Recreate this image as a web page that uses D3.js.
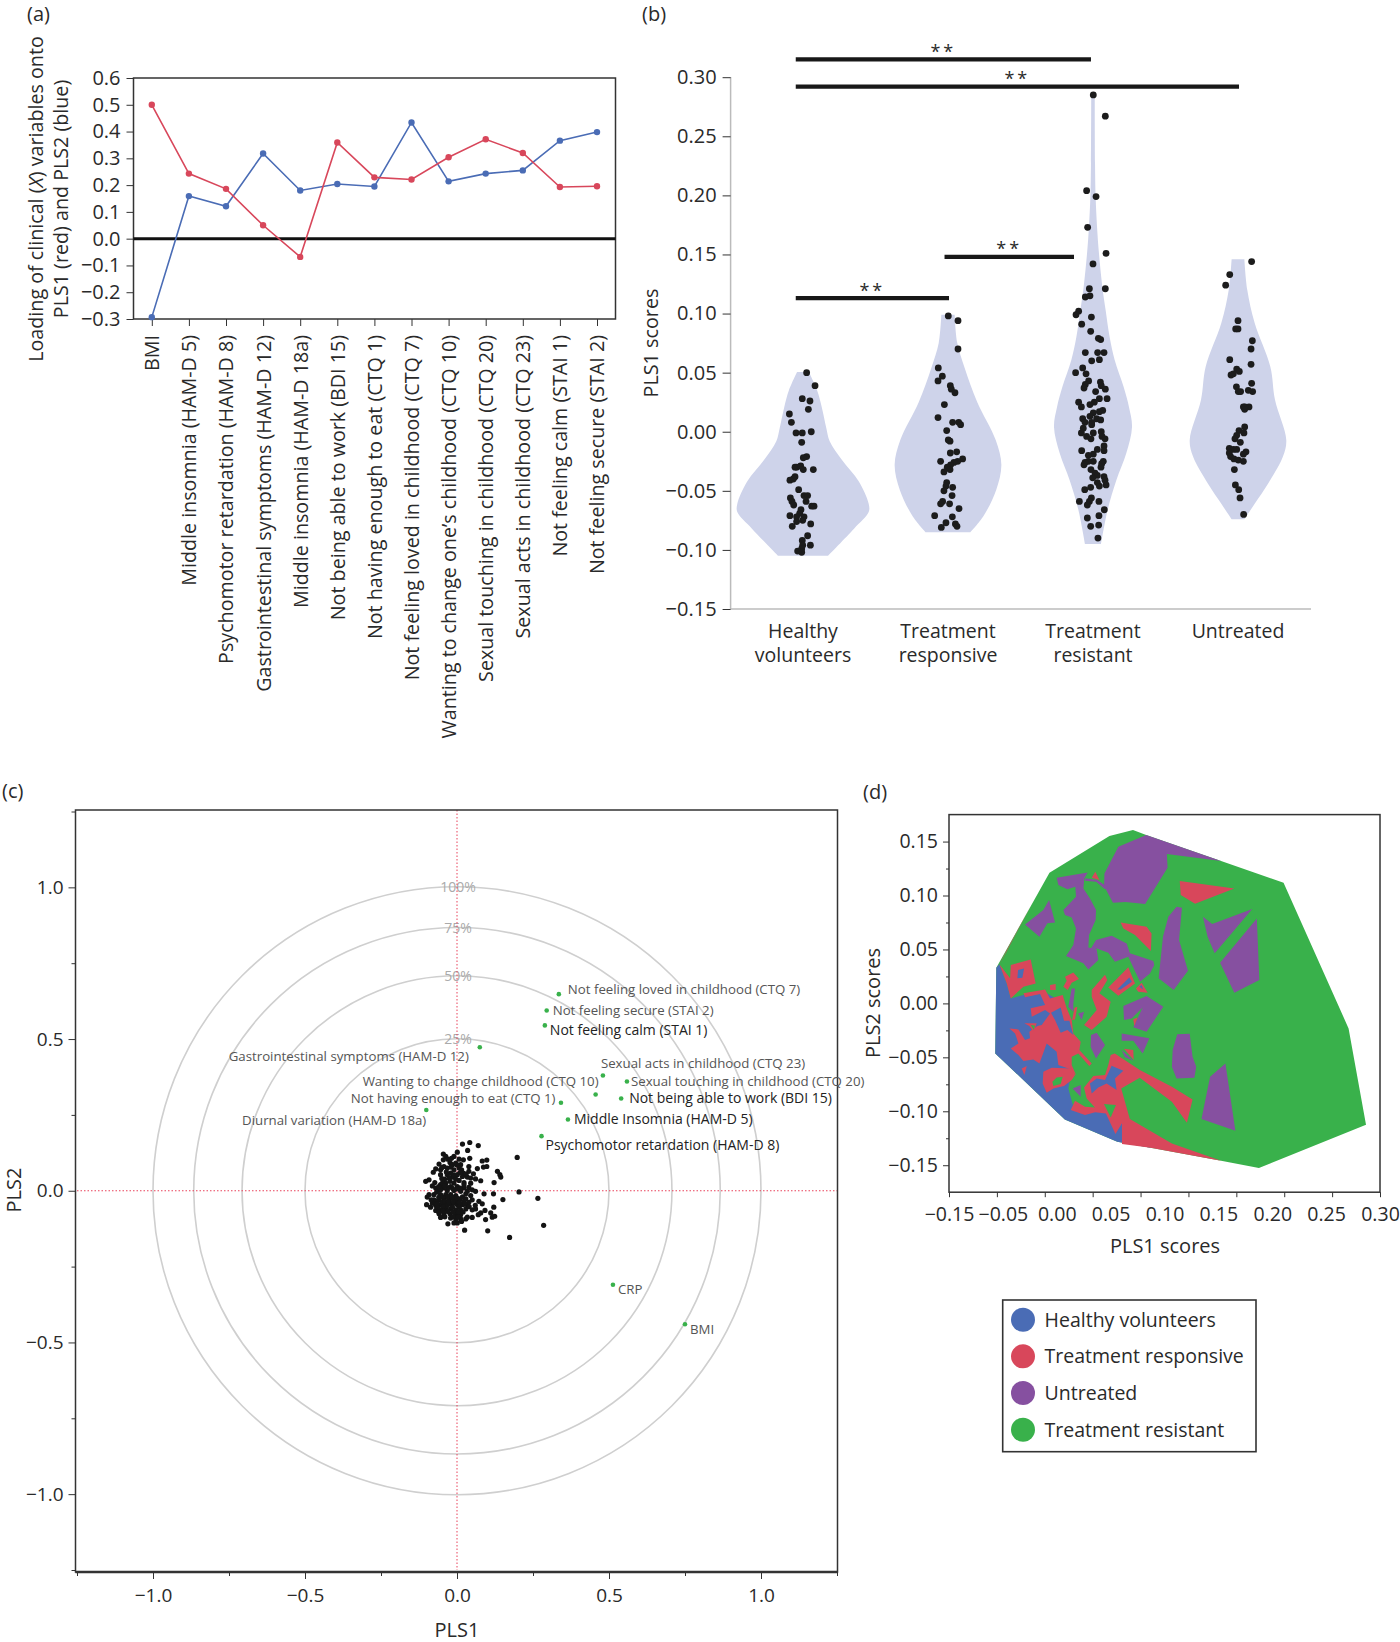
<!DOCTYPE html>
<html>
<head>
<meta charset="utf-8">
<script src="https://cdnjs.cloudflare.com/ajax/libs/d3/7.8.5/d3.min.js"></script>
<style>
  body { margin: 0; background: #fff; }
  text { font-family: "Open Sans", sans-serif; fill: #2a2a2a; }
</style>
</head>
<body>
<script>
// (a) loadings
var variableNames = ['BMI', 'Middle insomnia (HAM-D 5)', 'Psychomotor retardation (HAM-D 8)', 'Gastrointestinal symptoms (HAM-D 12)',
  'Middle insomnia (HAM-D 18a)', 'Not being able to work (BDI 15)', 'Not having enough to eat (CTQ 1)', 'Not feeling loved in childhood (CTQ 7)',
  'Wanting to change one\u2019s childhood (CTQ 10)', 'Sexual touching in childhood (CTQ 20)', 'Sexual acts in childhood (CTQ 23)',
  'Not feeling calm (STAI 1)', 'Not feeling secure (STAI 2)'];
var pls1Loadings = [0.5, 0.243, 0.186, 0.05, -0.068, 0.359, 0.229, 0.221, 0.304, 0.371, 0.32, 0.193, 0.196];
var pls2Loadings = [-0.293, 0.159, 0.121, 0.318, 0.18, 0.204, 0.195, 0.434, 0.214, 0.243, 0.255, 0.366, 0.398];
var loadingTicks = [-0.3, -0.2, -0.1, 0, 0.1, 0.2, 0.3, 0.4, 0.5, 0.6];

// (b) violins: [offset from the group centre, PLS1 score]
var groupNames = ['Healthy volunteers', 'Treatment responsive', 'Treatment resistant', 'Untreated'];
var scoreTicks = [-0.15, -0.1, -0.05, 0, 0.05, 0.1, 0.15, 0.2, 0.25, 0.3];
var healthyScores = [[.025,.050],[.083,.039],[-.005,.028],[.048,.026],[.037,.019],[-.094,.015],[-.080,.008],[-.048,-.001],[-.005,-.001],[.057,.000],
  [-.009,-.009],[.025,-.021],[.002,-.022],[-.044,-.030],[-.055,-.030],[-.016,-.029],[.002,-.032],[.071,-.032],[-.055,-.038],[-.067,-.040],
  [-.090,-.041],[-.030,-.049],[.007,-.054],[.032,-.054],[.021,-.059],[-.087,-.056],[-.076,-.059],[-.064,-.062],[.060,-.063],[.076,-.063],
  [-.014,-.066],[-.090,-.071],[-.023,-.069],[-.044,-.072],[.007,-.072],[-.002,-.075],[-.044,-.076],[.053,-.078],[-.074,-.080],[.032,-.088],
  [-.005,-.092],[-.002,-.096],[.051,-.096],[-.009,-.099],[-.037,-.101],[-.009,-.102]];
var responsiveScores = [[.002,.098],[.069,.094],[.069,.070],[-.067,.054],[-.039,.047],[-.069,.043],[.016,.039],[.023,.036],[.048,.033],[-.025,.023],
  [-.069,.012],[.032,.008],[.074,.008],[.087,.006],[-.009,.001],[.002,-.007],[.014,-.008],[.016,-.018],[.060,-.017],[-.051,-.025],
  [.101,-.023],[.067,-.025],[.041,-.026],[.018,-.028],[-.005,-.030],[.014,-.032],[-.028,-.034],[-.009,-.043],[-.014,-.046],[.032,-.047],
  [-.028,-.050],[.028,-.054],[-.037,-.059],[-.051,-.061],[.011,-.061],[.076,-.065],[-.092,-.071],[.030,-.072],[-.014,-.077],[-.046,-.081],
  [.051,-.078],[.062,-.080]];
var resistantScores = [[.002,.285],[.085,.267],[-.044,.204],[.021,.199],[-.037,.173],[.090,.151],[.000,.142],[-.025,.121],[.085,.121],[-.053,.114],
  [-.021,.115],[-.099,.102],[-.117,.099],[-.011,.097],[-.078,.091],[-.016,.085],[.037,.079],[.053,.078],[-.053,.067],[.032,.067],
  [.076,.067],[-.009,.060],[.044,.061],[-.071,.054],[-.120,.050],[-.048,.049],[-.030,.043],[-.053,.040],[-.062,.037],[.051,.042],
  [.057,.039],[.085,.036],[.018,.034],[.097,.028],[.044,.028],[.009,.025],[-.021,.023],[-.099,.025],[-.080,.021],[.067,.018],
  [.044,.017],[.002,.016],[-.021,.013],[-.071,.011],[.025,.011],[.053,.010],[-.009,.008],[-.055,.008],[-.009,.006],[-.067,.003],
  [.057,.000],[.002,-.001],[-.080,-.001],[-.044,-.004],[-.014,-.006],[.062,-.004],[.083,-.006],[.076,-.012],[.076,-.016],[.030,-.015],
  [-.078,-.016],[.002,-.019],[-.032,-.020],[.071,-.025],[.002,-.025],[-.032,-.025],[-.055,-.026],[-.062,-.028],[.060,-.027],[.055,-.030],
  [-.014,-.032],[.014,-.035],[.030,-.037],[-.002,-.039],[.076,-.038],[.083,-.041],[.030,-.043],[.090,-.045],[.044,-.046],[-.016,-.047],
  [-.057,-.049],[-.011,-.056],[-.025,-.059],[-.039,-.062],[-.094,-.059],[.041,-.059],[.078,-.066],[.041,-.071],[-.039,-.073],[-.016,-.080],
  [.039,-.079],[.034,-.090]];
var untreatedScores = [[.094,.144],[-.057,.133],[-.085,.124],[0,.094],[-.016,.087],[0,.087],[.099,.077],[.090,.070],[-.057,.061],[.090,.057],
  [-.009,.053],[.009,.051],[-.032,.049],[-.048,.048],[.094,.041],[-.011,.038],[.002,.034],[.018,.034],[.071,.035],[.101,.034],
  [.076,.021],[.048,.021],[.037,.021],[.046,.019],[.046,.004],[.007,.001],[.041,-.001],[-.009,-.003],[-.021,-.006],[.016,-.009],
  [-.060,-.014],[-.032,-.015],[-.009,-.015],[.055,-.017],[-.060,-.018],[.037,-.019],[-.051,-.021],[-.028,-.023],[.002,-.024],[.037,-.025],
  [-.025,-.032],[-.018,-.045],[.005,-.049],[.014,-.056],[.039,-.070]];
// violin outlines: [PLS1 score, half width in group units]
var healthyViolin = [[.0505,.041],[.035,.097],[.021,.129],[.003,.161],[-.008,.184],[-.024,.269],[-.042,.384],[-.061,.453],[-.068,.453],[-.082,.352],[-.105,.172]];
var responsiveViolin = [[.099,.046],[.075,.064],[.054,.115],[.025,.202],[-.007,.329],[-.028,.368],[-.049,.333],[-.071,.246],[-.085,.154]];
var resistantViolin = [[.285,.012],[.227,.014],[.199,.018],[.173,.028],[.151,.041],[.123,.064],[.103,.087],[.080,.115],[.061,.149],[.038,.211],[.021,.248],[.004,.269],[-.018,.230],[-.041,.161],[-.066,.101],[-.095,.055]];
var untreatedViolin = [[.146,.044],[.120,.064],[.092,.115],[.055,.223],[.027,.255],[-.007,.333],[-.021,.310],[-.044,.207],[-.061,.115],[-.074,.044]];
// significance bars: [from group, to group, level]
var sigBars = [[-0.05, 1.986, 0.315], [-0.05, 3.007, 0.292], [0.976, 1.869, 0.148], [-0.05, 1.007, 0.113]];

// (c) biplot
var ringPercents = [25, 50, 75, 100];
var biplotTicks = [-1, -0.5, 0, 0.5, 1];
var biplotMinorTicks = [-1.25, -0.75, -0.25, 0.25, 0.75, 1.25];
var biplotNames = ['Not feeling loved in childhood (CTQ 7)', 'Not feeling secure (STAI 2)', 'Not feeling calm (STAI 1)', 'Gastrointestinal symptoms (HAM-D 12)',
  'Sexual acts in childhood (CTQ 23)', 'Sexual touching in childhood (CTQ 20)', 'Wanting to change childhood (CTQ 10)', 'Not being able to work (BDI 15)',
  'Not having enough to eat (CTQ 1)', 'Middle Insomnia (HAM-D 5)', 'Diurnal variation (HAM-D 18a)', 'Psychomotor retardation (HAM-D 8)', 'CRP', 'BMI'];
var biplotPls1 = [.335, .295, .289, .075, .48, .559, .456, .54, .342, .365, -.101, .278, .513, .75];
var biplotPls2 = [.648, .594, .545, .473, .38, .36, .317, .304, .29, .235, .266, .18, -.31, -.44];
var biplotScores = [[.018,.154],[.042,.159],[.070,.149],[.035,.133],[.198,.110],[-.045,.121],[.001,.127],[-.010,.113],[-.018,.107],[-.037,.113],
  [.042,.107],[.021,.102],[.083,.098],[.098,.101],[.098,.080],[.087,.078],[.067,.073],[-.045,.102],[-.023,.093],[-.059,.088],
  [-.004,.091],[.012,.086],[.039,.080],[.039,.064],[.015,.069],[-.010,.069],[-.043,.080],[-.070,.072],[-.078,.061],[-.054,.069],
  [-.032,.075],[.007,.075],[.133,.064],[.141,.053],[.144,.045],[.054,.056],[.122,.027],[.061,.039],[.078,.033],[.034,.045],
  [.018,.047],[.001,.053],[-.015,.045],[-.054,.053],[-.041,.038],[-.023,.031],[-.092,.036],[-.103,.031],[-.073,.027],[-.081,.016],
  [-.070,.009],[-.054,.020],[-.037,.025],[-.010,.025],[.023,.027],[.007,.034],[.045,.025],[.061,-.002],[.039,.011],[.023,.009],
  [.001,.014],[-.021,.014],[-.045,.009],[-.062,.001],[-.032,.001],[-.010,.001],[.012,-.002],[.089,-.010],[.120,-.010],[.204,-.004],
  [.151,-.029],[.266,-.025],[-.092,-.013],[-.098,-.021],[-.076,-.013],[-.054,-.013],[-.037,-.013],[-.021,-.013],[-.004,-.016],[.029,-.010],
  [.045,-.016],[-.076,-.030],[-.059,-.030],[-.043,-.027],[-.026,-.027],[-.010,-.030],[.010,-.027],[.029,-.027],[.050,-.030],[.072,-.035],
  [.083,-.043],[-.100,-.046],[-.087,-.054],[-.070,-.049],[-.054,-.046],[-.037,-.043],[-.021,-.043],[.001,-.046],[.018,-.046],[.034,-.046],
  [.061,-.060],[.121,-.054],[.092,-.065],[.078,-.073],[.070,-.079],[.050,-.063],[-.070,-.065],[-.054,-.063],[-.037,-.060],[-.021,-.060],
  [-.004,-.063],[.012,-.063],[.029,-.060],[-.059,-.076],[-.043,-.077],[-.023,-.076],[-.004,-.077],[.012,-.079],[.111,-.073],[.116,-.087],
  [.124,-.084],[.094,-.095],[.050,-.088],[.034,-.087],[.029,-.093],[-.054,-.088],[-.021,-.090],[-.004,-.093],[.012,-.093],[-.010,-.106],
  [-.030,-.109],[.001,-.106],[.015,-.101],[.025,-.130],[.101,-.132],[.173,-.154],[.285,-.114],[-.068,-.035],[-.048,-.038],[-.032,-.049],
  [-.015,-.054],[.023,-.035],[.039,-.038],[-.081,-.041],[-.062,-.057],[-.045,-.052],[.007,-.054],[-.010,-.041],[.001,-.035],[-.026,.042],
  [-.048,.025],[.050,.003],[.034,-.002],[-.054,.003],[-.067,-.005],[.010,.009],[.023,.020],[-.021,.058],[-.032,.053],[-.004,.038],
  [-.015,.086],[-.030,.104],[.007,.104],[.021,.058],[.045,.042],[-.060,-.022],[-.045,-.022],[-.030,-.020],[-.015,-.022],[.000,-.024],
  [.018,-.020],[-.065,-.042],[-.040,-.034],[-.028,-.036],[-.012,-.036],[.008,-.038],[.025,-.044],[-.060,-.070],[-.045,-.068],[-.030,-.068],
  [-.012,-.070],[.005,-.072],[.020,-.070],[-.040,-.086],[-.012,-.085],[.004,-.086],[-.030,.010],[-.015,.008],[.000,.006],[-.040,.016],
  [-.060,.014],[-.025,.042],[-.050,.040],[-.010,.052],[.010,.060],[-.035,.062],[-.050,.076],[-.020,.078],[.000,.085],[.030,.055],
  [.040,-.052],[.060,-.048],[-.085,-.030]];

// (d) decision regions, outlines in PLS1/PLS2 score units
var regionTicksX = [-0.15, -0.1, -0.05, 0, 0.05, 0.1, 0.15, 0.2, 0.25, 0.3];
var regionLabelsX = ['\u22120.15', '\u22120.05', '0.00', '0.05', '0.10', '0.15', '0.20', '0.25', '0.30'];
var regionTicksY = [-0.15, -0.1, -0.05, 0, 0.05, 0.1, 0.15];
var regionMinorY = [-0.125, -0.075, -0.025, 0.025, 0.075, 0.125];
var legendNames = ['Healthy volunteers', 'Treatment responsive', 'Untreated', 'Treatment resistant'];
var resistantHull = [[-.1006,.0331],[-.0451,.1211],[.0175,.1551],[.0421,.1607],[.0559,.1560],[.1341,.1319],[.1993,.1119],[.2672,-.0232],[.2854,-.1125],[.1736,-.1526],[.1341,-.1458],[.0604,-.1338],[.0257,-.1282],[-.0291,-.1075],[-.1017,-.0464]];
var healthyBase = [[-.1006,.0331],[-.1017,-.0464],[-.0291,-.1075],[.0257,-.1282],[.0604,-.1338],[.05,-.125],[.0306,-.11],[.0138,-.095],[.0026,-.0985],[-.008,-.1],[-.0202,-.0958],[-.0254,-.0788],[-.0219,-.0633],[-.0271,-.0510],[-.0236,-.0371],[-.0289,-.0124],[-.0358,.0031],[-.0480,.0093],[-.0654,.0077],[-.0723,.0077],[-.0855,.0046],[-.0897,.0185],[-.0974,.0362]];
var responsiveRegions = [
  [[-.0974,.0355],[-.0636,.0921],[-.0897,.0494]],
  [[-.0723,.0093],[-.0497,.0130],[-.0445,.0046],[-.0313,.0077],[-.0271,-.0046],[-.0219,-.0155],[-.0202,-.0278],[-.0125,-.0355],[-.0139,-.0433],[-.0010,-.0556],[-.0035,-.0581],[-.0150,-.0464],[-.0219,-.0494],[-.0219,-.0572],[-.0174,-.0664],[-.0254,-.0603],[-.0358,-.0572],[-.0376,-.0448],[-.0480,-.0371],[-.0556,-.0556],[-.0619,-.0519],[-.0723,-.0535],[-.0775,-.0479],[-.0855,-.0417],[-.0775,-.0371],[-.0810,-.0278],[-.0869,-.0232],[-.0775,-.0241],[-.0706,-.0340],[-.0654,-.0324],[-.0661,-.0263],[-.0577,-.0210],[-.0532,-.0201],[-.0445,-.0093],[-.0497,-.0062],[-.0636,-.0124],[-.0647,-.0046],[-.0497,-.0015],[-.0549,.0087],[-.0706,.0056]],
  [[-.0713,-.0185],[-.0584,-.0185],[-.0619,-.0263],[-.0661,-.0210]],
  [[-.0741,-.0603],[-.0688,-.0581],[-.0713,-.0664]],
  [[-.0515,-.0633],[-.0428,-.0596],[-.0219,-.0603],[-.0184,-.0664],[-.0219,-.0711],[-.0299,-.0766],[-.0410,-.0788],[-.0480,-.0828],[-.0522,-.0742]],
  [[.0188,-.0479],[.0231,-.0464],[.0492,-.0618],[.0827,-.0773],[.1043,-.0890],[.0984,-.1106],[.0827,-.0912],[.0492,-.0689],[.0298,-.0788],[.0388,-.1072],[.0827,-.1298],[.1341,-.1458],[.0604,-.1338],[.0306,-.1304],[.0306,-.1112],[.0238,-.1211],[.0138,-.1020],[.0026,-.1010],[-.0080,-.1035],[-.0229,-.0989],[-.0184,-.0902],[-.0080,-.0958],[.0024,-.0964],[-.0063,-.0881],[-.0090,-.0779],[.0007,-.0674],[.0129,-.0664],[.0163,-.0572]],
  [[-.0974,.0362],[-.0862,.0232],[-.0855,.0355],[-.0647,.0408],[-.0595,.0185],[-.0723,.0155],[-.0855,.0046],[-.0897,.0185]],
  [[-.0289,.0247],[-.0202,.0287],[-.0143,.0226],[-.0219,.0192],[-.0261,.0124],[-.0306,.0155],[-.0271,.0210]],
  [[-.0445,.0170],[-.0386,.0179],[-.0386,.0124],[-.0445,.0124]],
  [[-.0010,.0124],[.0129,.0266],[.0153,.0216],[.0070,.0093],[.0188,.0015],[.0146,-.0124],[-.0010,-.0247],[-.0090,-.0201],[.0042,-.0062],[-.0010,.0062]],
  [[.0163,.0148],[.0372,.0334],[.0442,.0185],[.0268,.0071]],
  [[.0452,.0139],[.0511,.0192],[.0574,.0099],[.0476,.0108]],
  [[.0909,.1134],[.1479,.1066],[.1069,.0924],[.0920,.1004]],
  [[.0292,.0751],[.0563,.0711],[.0615,.0649],[.0608,.0485],[.0546,.0541],[.0442,.0633],[.0320,.0695]],
  [[-.0010,.1165],[.0028,.1221],[.0070,.1143]],
  [[-.0190,-.0040],[-.0160,-.0031],[-.0185,-.0150],[-.0215,-.0155]]
];
var healthyIslands = [
  [[-.0435,-.0087],[-.0334,-.0037],[-.0299,-.0161],[-.0243,-.0161],[-.0202,-.0294],[-.0264,-.0247],[-.0334,-.0272],[-.0393,-.0155]],
  [[-.0028,-.0742],[.0042,-.0695],[.0129,-.0711],[.0198,-.0578],[.0320,-.0624],[.0233,-.0695],[.0250,-.0803],[.0146,-.0742],[.0059,-.0779],[-.0010,-.0834]],
  [[-.0779,.0309],[-.0716,.0324],[-.0734,.0238],[-.0786,.0232]],
  [[.0257,.0130],[.0382,.0241],[.0410,.0201],[.0292,.0130]],
  [[.0487,.0155],[.0511,.0170],[.0528,.0130]]
];
var resistantIslands = [
  [[-.0647,-.0201],[-.0602,-.0204],[-.0615,-.0247]],
  [[-.0421,-.0726],[-.0376,-.0686],[-.0313,-.0680],[-.0334,-.0748],[-.0410,-.0766]],
  [[.0118,-.0933],[.0243,-.0942],[.0188,-.1057]]
];
var untreatedRegions = [
  [[.0559,.1560],[.1341,.1319],[.0775,.1384],[.0782,.1258],[.0548,.0921],[.0343,.0939],[.0212,.0933],[.0119,.1088],[.0123,.1205],[.0268,.1452]],
  [[.0876,.0896],[.0932,.0887],[.0902,.0587],[.0995,.0303],[.0846,.0124],[.0689,.0232],[.0734,.0618],[.0790,.0803]],
  [[.1151,.0803],[.1248,.0735],[.1666,.0874],[.1274,.0464],[.1200,.0618]],
  [[.1714,.0788],[.1740,.0216],[.1479,.0099],[.1330,.0377]],
  [[.0883,-.0287],[.1013,-.0281],[.1043,-.0494],[.1081,-.0587],[.1062,-.0689],[.0876,-.0695],[.0827,-.0587],[.0835,-.0433]],
  [[.1386,-.0556],[.1490,-.1180],[.1136,-.1072],[.1226,-.0680]],
  [[-.0376,.1165],[-.0052,.1214],[-.0087,.1159],[-.0097,.1066],[-.0028,.0973],[.0035,.0865],[.0031,.0773],[-.0038,.0633],[-.0045,.0519],[.0042,.0501],[.0059,.0402],[-.0045,.0315],[-.0097,.0371],[-.0278,.0439],[-.0202,.0541],[-.0174,.0695],[-.0219,.0797],[-.0289,.0819],[-.0306,.0865],[-.0174,.0989],[-.0181,.1082],[-.0264,.1057],[-.0358,.1097]],
  [[-.0080,.1159],[.0049,.1143],[.0163,.1075],[.0129,.1057],[.0035,.1128],[-.0080,.1137]],
  [[-.0028,.0494],[.0035,.0587],[.0198,.0627],[.0355,.0556],[.0389,.0464],[.0633,.0392],[.0643,.0355],[.0598,.0278],[.0494,.0201],[.0372,.0433],[.0233,.0386],[.0163,.0470],[.0042,.0510]],
  [[-.0455,.0958],[-.0393,.0751],[-.0473,.0742],[-.0556,.0618],[-.0706,.0732],[-.0515,.0865]],
  [[-.0219,.0139],[-.0184,.0139],[-.0202,0],[-.0202,-.0077],[-.0254,-.0031]],
  [[.0320,-.0025],[.0563,.0068],[.0737,-.0031],[.0563,-.0263],[.0424,-.0222],[.0522,-.0037],[.0407,-.0139],[.0327,-.0155]],
  [[.0303,-.0278],[.0591,-.0324],[.0522,-.0464],[.0424,-.0346],[.0303,-.0346]],
  [[.0303,-.0433],[.0424,-.0531],[.0337,-.0500]],
  [[-.0017,-.0294],[.0042,-.0272],[.0129,-.0386],[.0035,-.0510],[-.0021,-.0402]],
  [[-.0209,-.0788],[-.0125,-.0757],[-.0125,-.0865]],
  [[-.0150,-.0093],[-.0090,-.0077],[-.0115,-.0155]]
];
var responsiveOnTop = [
  [[.0424,-.0148],[.0469,-.0130],[.0435,-.0210]],
  [[.0327,-.0420],[.0424,-.0433],[.0428,-.0525]]
];

var colors = { blue: '#4a6cb5', red: '#d8475b', purple: '#8650a0', green: '#39b14b', violin: '#ced3ea', dark: '#1c1c1c', frame: '#333' };

var svg = d3.select('body').append('svg')
            .attr('width', 1400)
            .attr('height', 1642);

function panelLabel(txt, x, y) {
  svg.append('text').attr('x', x).attr('y', y).attr('dy', '.35em')
     .style('font-size', '20px').text(txt);
}
function styleAxis(g, size) {
  g.selectAll('text').style('font-size', (size || 20) + 'px').style('font-family', '"Open Sans", sans-serif');
  g.selectAll('line').attr('stroke', colors.frame);
  g.select('.domain').remove();
}
function rotatedText(x, y, txt, size) {
  return svg.append('text').attr('transform', 'translate(' + x + ',' + y + ') rotate(-90)')
            .attr('text-anchor', 'middle').attr('dy', '.35em')
            .style('font-size', size + 'px').text(txt);
}
function frame(x0, y0, x1, y1) {
  svg.append('rect').attr('x', x0).attr('y', y0).attr('width', x1 - x0).attr('height', y1 - y0)
     .attr('fill', 'none').attr('stroke', colors.frame).attr('stroke-width', 1.5);
}

// ---- panel a
panelLabel('(a)', 27, 14);
var ax = d3.scalePoint().domain(variableNames).range([151.8, 597]);
var ay = d3.scaleLinear().domain([-0.3, 0.6]).range([319, 78]);

var aLeft = svg.append('g').attr('transform', 'translate(133.5,0)')
               .call(d3.axisLeft(ay).tickValues(loadingTicks).tickFormat(d3.format('.1f')).tickSize(7).tickPadding(6));
styleAxis(aLeft, 20);
var aBottom = svg.append('g').attr('transform', 'translate(0,319)')
                 .call(d3.axisBottom(ax).tickSize(7));
styleAxis(aBottom, 19.7);
aBottom.selectAll('text')
       .attr('transform', 'rotate(-90)')
       .attr('text-anchor', 'end')
       .attr('x', -16).attr('y', 0).attr('dy', '.35em');
frame(133.5, 78, 615.5, 319);
svg.append('line').attr('x1', 133.5).attr('x2', 615.5).attr('y1', ay(0)).attr('y2', ay(0))
   .attr('stroke', '#111').attr('stroke-width', 3);

[[pls2Loadings, colors.blue], [pls1Loadings, colors.red]].forEach(function(s) {
  var line = d3.line().x(function(d, i) { return ax(variableNames[i]); }).y(function(d) { return ay(d); });
  svg.append('path').attr('d', line(s[0])).attr('fill', 'none').attr('stroke', s[1]).attr('stroke-width', 1.6);
  svg.append('g').selectAll('circle').data(s[0]).enter().append('circle')
     .attr('cx', function(d, i) { return ax(variableNames[i]); })
     .attr('cy', function(d) { return ay(d); })
     .attr('r', 3.2).attr('fill', s[1]);
});
var aTitle = svg.append('text').attr('transform', 'translate(36.5,199) rotate(-90)').attr('text-anchor', 'middle').attr('dy', '.35em').style('font-size', '19.7px');
aTitle.append('tspan').text('Loading of clinical (');
aTitle.append('tspan').style('font-style', 'italic').text('X');
aTitle.append('tspan').text(') variables onto');
rotatedText(61, 199, 'PLS1 (red) and PLS2 (blue)', 19.7);

// ---- panel b
panelLabel('(b)', 642, 14);
var bx = d3.scaleLinear().domain([0, 3]).range([803, 1238]);
var by = d3.scaleLinear().domain([-0.15, 0.3]).range([609, 77.2]);
var bNames = d3.scalePoint().domain(groupNames).range([803, 1238]);

svg.append('line').attr('x1', 730.6).attr('x2', 730.6).attr('y1', 77).attr('y2', 609).attr('stroke', '#bbb').attr('stroke-width', 1.5);
svg.append('line').attr('x1', 730.6).attr('x2', 1311).attr('y1', 609).attr('y2', 609).attr('stroke', '#bbb').attr('stroke-width', 1.5);
var bLeft = svg.append('g').attr('transform', 'translate(730.6,0)')
               .call(d3.axisLeft(by).tickValues(scoreTicks).tickFormat(d3.format('.2f')).tickSize(8).tickPadding(6));
styleAxis(bLeft, 20);
rotatedText(651, 343, 'PLS1 scores', 19.8);

svg.append('g').selectAll('text').data(groupNames).enter().append('text')
   .attr('text-anchor', 'middle')
   .style('font-size', '19.5px')
   .each(function(d) {
     var words = d.split(' ');
     var t = d3.select(this);
     words.forEach(function(w, i) {
       t.append('tspan').attr('x', bNames(d)).attr('y', 638 + i * 24).text(w);
     });
   });

var violins = [healthyViolin, responsiveViolin, resistantViolin, untreatedViolin];
var scoreSets = [healthyScores, responsiveScores, resistantScores, untreatedScores];
violins.forEach(function(v, g) {
  var area = d3.area()
               .x0(function(d) { return bx(g - d[1]); })
               .x1(function(d) { return bx(g + d[1]); })
               .y(function(d) { return by(d[0]); })
               .curve(d3.curveCatmullRom.alpha(0.5));
  svg.append('path').attr('d', area(v)).attr('fill', colors.violin);
});
scoreSets.forEach(function(set, g) {
  svg.append('g').selectAll('circle').data(set).enter().append('circle')
     .attr('cx', function(d) { return bx(g + d[0]); })
     .attr('cy', function(d) { return by(d[1]); })
     .attr('r', 3.4).attr('fill', colors.dark);
});
sigBars.forEach(function(b) {
  svg.append('line').attr('x1', bx(b[0])).attr('x2', bx(b[1])).attr('y1', by(b[2])).attr('y2', by(b[2]))
     .attr('stroke', '#181818').attr('stroke-width', 4.2);
  svg.append('text').attr('x', bx((b[0] + b[1]) / 2)).attr('y', by(b[2]) - 1.5)
     .attr('text-anchor', 'middle').style('font-size', '18px').style('letter-spacing', '3px').text('**');
});

// ---- panel c
panelLabel('(c)', 2, 791);
var cx = d3.scaleLinear().domain([-1.25, 1.25]).range([77, 837]);
var cy = d3.scaleLinear().domain([-1.25, 1.25]).range([1570, 811.5]);

ringPercents.forEach(function(p) {
  var r = Math.sqrt(p / 100);
  svg.append('circle').attr('cx', cx(0)).attr('cy', cy(0)).attr('r', cx(r) - cx(0))
     .attr('fill', 'none').attr('stroke', '#cfcfcf').attr('stroke-width', 1.6);
  svg.append('text').attr('x', cx(0) + 1).attr('y', cy(r)).attr('dy', '.35em').attr('text-anchor', 'middle')
     .style('font-size', '14px').style('fill', '#aaa').text(p + '%');
});
svg.append('line').attr('x1', 77).attr('x2', 837).attr('y1', cy(0)).attr('y2', cy(0))
   .attr('stroke', '#e8415a').attr('stroke-width', 1).attr('stroke-dasharray', '1.5,2');
svg.append('line').attr('x1', cx(0)).attr('x2', cx(0)).attr('y1', 810).attr('y2', 1570)
   .attr('stroke', '#e8415a').attr('stroke-width', 1).attr('stroke-dasharray', '1.5,2');

var cLeft = svg.append('g').attr('transform', 'translate(75.5,0)')
               .call(d3.axisLeft(cy).tickValues(biplotTicks).tickFormat(d3.format('.1f')).tickSize(7).tickPadding(5));
styleAxis(cLeft, 19);
var cBottom = svg.append('g').attr('transform', 'translate(0,1572)')
                 .call(d3.axisBottom(cx).tickValues(biplotTicks).tickFormat(d3.format('.1f')).tickSize(7).tickPadding(10));
styleAxis(cBottom, 19);
svg.append('g').attr('transform', 'translate(75.5,0)')
   .call(d3.axisLeft(cy).tickValues(biplotMinorTicks).tickFormat('').tickSize(4))
   .call(styleAxis);
svg.append('g').attr('transform', 'translate(0,1572)')
   .call(d3.axisBottom(cx).tickValues(biplotMinorTicks).tickFormat('').tickSize(4))
   .call(styleAxis);
frame(75.5, 810, 837.5, 1572);
svg.append('line').attr('x1', 75.5).attr('x2', 837.5).attr('y1', 1572).attr('y2', 1572).attr('stroke', colors.frame).attr('stroke-width', 2.5);
svg.append('text').attr('x', cx(0)).attr('y', 1630).attr('dy', '.35em').attr('text-anchor', 'middle').style('font-size', '20px').text('PLS1');
rotatedText(14, 1190, 'PLS2', 20);

svg.append('g').selectAll('circle').data(biplotScores).enter().append('circle')
   .attr('cx', function(d) { return cx(d[0]); })
   .attr('cy', function(d) { return cy(d[1]); })
   .attr('r', 2.6).attr('fill', '#141414');

// label placement for each loading: anchor, dx, dy, dark text
var biplotPlacement = [['start', 9, -5, 0], ['start', 6, 0, 0], ['start', 5, 5, 1], ['end', -11, 9, 0], ['start', -2, -12, 0], ['start', 4, 0, 0], ['end', 3, -13, 0],
  ['start', 8, 0, 1], ['end', -5.5, -4, 0], ['start', 6, 0, 1], ['end', 0, 10, 0], ['start', 4, 9, 1], ['start', 5, 5, 0], ['start', 5, 5, 0]];
biplotNames.forEach(function(name, i) {
  var p = biplotPlacement[i];
  svg.append('circle').attr('cx', cx(biplotPls1[i])).attr('cy', cy(biplotPls2[i])).attr('r', 2.3).attr('fill', colors.green);
  svg.append('text').attr('x', cx(biplotPls1[i]) + p[1]).attr('y', cy(biplotPls2[i]) + p[2]).attr('dy', '.35em')
     .attr('text-anchor', p[0]).style('font-size', p[3] ? '14px' : '13.25px').style('fill', p[3] ? '#222' : '#555').text(name);
});

// ---- panel d
panelLabel('(d)', 863, 792);
var dx = d3.scaleLinear().domain([-0.15, 0.3]).range([949, 1380]);
var dy = d3.scaleLinear().domain([-0.175, 0.175]).range([1192.2, 814.6]);
var dLabels = d3.scalePoint().domain(regionLabelsX).range([949, 1380]);
var polygon = d3.line().x(function(d) { return dx(d[0]); }).y(function(d) { return dy(d[1]); }).curve(d3.curveLinearClosed);

function drawRegions(list, color) {
  svg.append('g').selectAll('path').data(list).enter().append('path')
     .attr('d', polygon).attr('fill', color);
}
drawRegions([resistantHull], colors.green);
drawRegions([healthyBase], colors.blue);
drawRegions(responsiveRegions, colors.red);
drawRegions(healthyIslands, colors.blue);
drawRegions(resistantIslands, colors.green);
drawRegions(untreatedRegions, colors.purple);
drawRegions(responsiveOnTop, colors.red);

var dLeft = svg.append('g').attr('transform', 'translate(949,0)')
               .call(d3.axisLeft(dy).tickValues(regionTicksY).tickFormat(d3.format('.2f')).tickSize(6).tickPadding(5));
styleAxis(dLeft, 19.5);
svg.append('g').attr('transform', 'translate(949,0)')
   .call(d3.axisLeft(dy).tickValues(regionMinorY).tickFormat('').tickSize(3))
   .call(styleAxis);
svg.append('g').attr('transform', 'translate(0,1192.2)')
   .call(d3.axisBottom(dx).tickValues(regionTicksX).tickFormat('').tickSize(5))
   .call(styleAxis);
var dBottom = svg.append('g').attr('transform', 'translate(0,1192.2)')
                 .call(d3.axisBottom(dLabels).tickSize(0).tickPadding(15));
styleAxis(dBottom, 19.5);
frame(949, 814.6, 1380, 1192.2);
svg.append('text').attr('x', 1165).attr('y', 1246).attr('dy', '.35em').attr('text-anchor', 'middle').style('font-size', '20px').text('PLS1 scores');
rotatedText(873, 1003, 'PLS2 scores', 20);

// legend
var legendColors = [colors.blue, colors.red, colors.purple, colors.green];
var legendY = d3.scalePoint().domain(legendNames).range([1319.7, 1429.7]);
svg.append('rect').attr('x', 1002.7).attr('y', 1300).attr('width', 253.3).attr('height', 151.7)
   .attr('fill', 'none').attr('stroke', colors.frame).attr('stroke-width', 1.6);
legendNames.forEach(function(name, i) {
  svg.append('circle').attr('cx', 1023).attr('cy', legendY(name)).attr('r', 12).attr('fill', legendColors[i]);
  svg.append('text').attr('x', 1044.6).attr('y', legendY(name)).attr('dy', '.35em').style('font-size', '19.5px').text(name);
});
</script>
</body>
</html>
